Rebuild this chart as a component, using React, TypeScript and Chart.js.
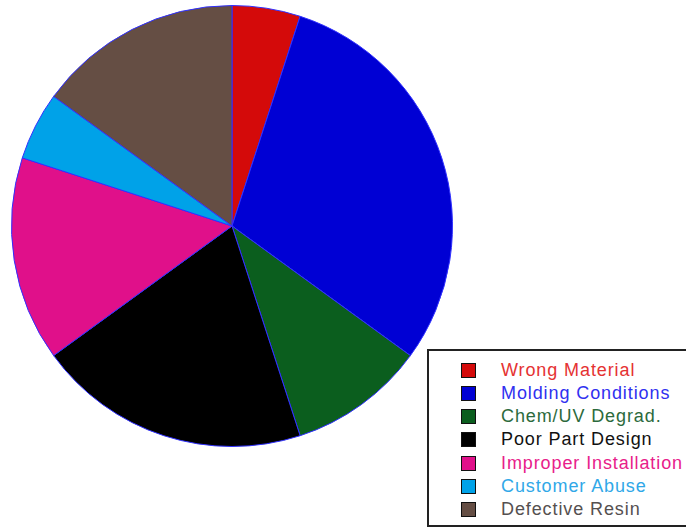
import React, { useEffect, useRef } from "react";
import { Chart, registerables } from "chart.js";

Chart.register(...registerables);

const categories = [
  "Wrong Material",
  "Molding Conditions",
  "Chem/UV Degrad.",
  "Poor Part Design",
  "Improper Installation",
  "Customer Abuse",
  "Defective Resin",
];
const values = [5, 30, 10, 20, 15, 5, 15];
const sliceColors = ["#d40a0a", "#0000d4", "#0b5e1e", "#000000", "#e0108a", "#00a2e8", "#654e44"];
const textColors = ["#e53232", "#3030f0", "#2c6a3c", "#111111", "#e8208a", "#30a8e8", "#555050"];

export default function App() {
  const ref = useRef<HTMLCanvasElement | null>(null);
  useEffect(() => {
    if (!ref.current) return;
    const chart = new Chart(ref.current, {
      type: "pie",
      data: {
        labels: categories,
        datasets: [
          {
            data: values,
            backgroundColor: sliceColors,
            borderColor: "#3030ff",
            borderWidth: 1,
          },
        ],
      },
      options: {
        animation: false,
        responsive: false,
        devicePixelRatio: 1,
        layout: { padding: 0 },
        plugins: { legend: { display: false }, tooltip: { enabled: false } },
      },
    });
    return () => chart.destroy();
  }, []);

  return (
    <div style={{ position: "fixed", left: 0, top: 0, width: 686, height: 529, background: "#fff", overflow: "hidden", fontFamily: "'Liberation Sans', Arial, sans-serif" }}>
      <canvas ref={ref} width={442} height={442} style={{ position: "absolute", left: 11, top: 5, width: 442, height: 442 }} />
      <div style={{ position: "absolute", left: 427, top: 349, width: 270, height: 178, border: "2px solid #222", boxSizing: "border-box", background: "#fff" }}>
        {categories.map((c, i) => (
          <div key={c} style={{ position: "absolute", left: 32, top: 8 + i * 23.3, height: 22, display: "flex", alignItems: "center", whiteSpace: "nowrap" }}>
            <span style={{ display: "inline-block", width: 13, height: 13, background: sliceColors[i], border: "1.5px solid #111", marginRight: 25 }} />
            <span style={{ color: textColors[i], fontSize: 18, letterSpacing: 0.9 }}>{c}</span>
          </div>
        ))}
      </div>
    </div>
  );
}
